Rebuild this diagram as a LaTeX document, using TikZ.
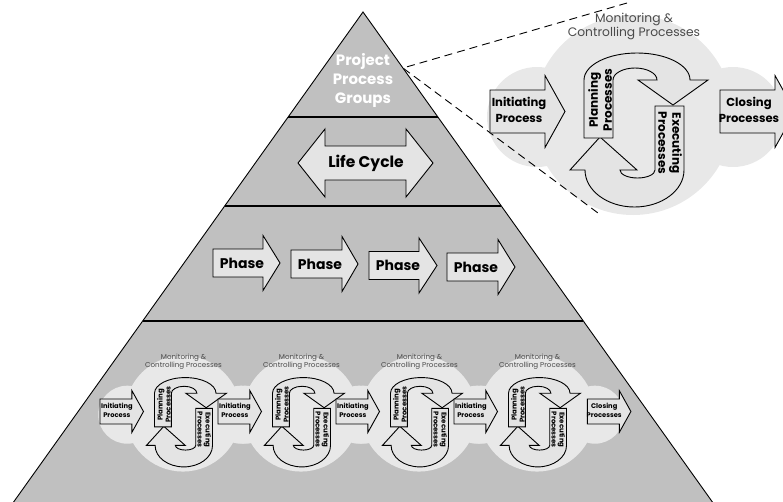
\documentclass[tikz,border=0pt]{standalone}
\usepackage{fontspec}
\setmainfont{Poppins}
\usetikzlibrary{calc}

\definecolor{pyrgray}{HTML}{C0C0C0}
\definecolor{cloudgray}{HTML}{E8E8E8}
\definecolor{boxgray}{HTML}{E4E4E4}
\definecolor{labelgray}{HTML}{4A4A4A}

\tikzset{
  arrowbox/.style={draw=black, line width=0.9pt, fill=boxgray, line join=miter},
  cloudfill/.style={fill=cloudgray},
  tierline/.style={draw=black, line width=1.8pt},
  zoomline/.style={draw=black, line width=0.9pt, dash pattern=on 8pt off 5pt},
  boldlabel/.style={font=\bfseries\fontsize{11.6}{16}\selectfont, align=center, inner sep=0pt},
  cyclelabel/.style={font=\bfseries\fontsize{12}{14}\selectfont, align=center, inner sep=0pt},
  monlabel/.style={font=\fontsize{12.3}{14}\selectfont, text=labelgray, align=center, inner sep=0pt},
  phaselabel/.style={font=\bfseries\fontsize{14}{17}\selectfont, inner sep=0pt},
  cyclename/.style={font=\bfseries\fontsize{15.5}{18}\selectfont, inner sep=0pt},
  toplabel/.style={font=\bfseries\fontsize{15}{19}\selectfont, text=white, align=center, inner sep=0pt},
}

% right-pointing block arrow: left x, head base x, tip x, centre y, body half height, head half height
\newcommand\RightBlock[6]{%
  \draw[arrowbox] (#1,{#4-#5}) -- (#2,{#4-#5}) -- (#2,{#4-#6}) -- (#3,#4)
    -- (#2,{#4+#6}) -- (#2,{#4+#5}) -- (#1,{#4+#5}) -- cycle;}

% light cloud behind one process-group cycle
\newcommand\CycleCloud{%
  \fill[cloudfill] (633,115) circle (100);
  \fill[cloudfill] (537,117) circle (50);
  \fill[cloudfill] (733,117) circle (50);}

\newcommand\InitBlock[1]{%
  \RightBlock{490}{545}{565}{111.5}{21.5}{36}
  \node[boldlabel] (#1init) at (519,110) {Initiating\\Process};}

\newcommand\CloseBlock[1]{%
  \RightBlock{720}{775}{795}{111.5}{21.5}{36}
  \node[boldlabel] (#1close) at (749,110) {Closing\\Processes};}

% planning / executing loop with the monitoring caption
\newcommand\CycleCore[1]{%
  \draw[arrowbox] (655,106) -- (684,106) -- (684,170)
    arc[start angle=0, end angle=180, x radius=49.5, y radius=37]
    -- (570,170) -- (600,137) -- (637,170) -- (620,170)
    arc[start angle=180, end angle=0, x radius=17.5, y radius=8] -- cycle;
  \draw[arrowbox] (584,138) -- (584,80)
    arc[start angle=180, end angle=360, x radius=53, y radius=27]
    -- (708,80) -- (673,105) -- (638,80) -- (657,80)
    arc[start angle=0, end angle=-180, x radius=22, y radius=12]
    -- (613,138) -- cycle;
  \node[cyclelabel, rotate=90] (#1plan) at (600,100) {Planning\\Processes};
  \node[cyclelabel, rotate=-90] (#1exec) at (670,143) {Executing\\Processes};
  \node[monlabel] (#1mon) at (634,26) {Monitoring \&\\Controlling Processes};}

\begin{document}
\begin{tikzpicture}[x=1pt, y=-1pt]
  \useasboundingbox (0,0) rectangle (783,501);

  % pyramid and its tiers
  \coordinate (apex) at (363,12);
  \coordinate (bl) at (13.6,502);
  \coordinate (br) at (712.4,502);
  \fill[pyrgray] (apex) -- (bl) -- (br) -- cycle;
  \draw[line width=0.9pt] (bl) -- (apex) -- (br);
  \draw[tierline] ($(apex)!0.21429!(bl)$) -- ($(apex)!0.21429!(br)$);
  \draw[tierline] ($(apex)!0.39592!(bl)$) -- ($(apex)!0.39592!(br)$);
  \draw[tierline] ($(apex)!0.63061!(bl)$) -- ($(apex)!0.63061!(br)$);

  % top tier
  \node[toplabel] (groups) at (363,80) {Project\\Process\\Groups};

  % life cycle tier
  \draw[arrowbox] (298,163) -- (325,129) -- (325,146) -- (406,146) -- (406,129)
    -- (433,163) -- (406,197) -- (406,180) -- (325,180) -- (325,197) -- cycle;
  \node[cyclename] (lifecycle) at (366,163) {Life Cycle};

  % phase tier
  \RightBlock{213}{263}{280}{263}{14}{27.5}
  \node[phaselabel] (phase1) at (242,263) {Phase};
  \RightBlock{291}{342}{358}{264}{14}{27.5}
  \node[phaselabel] (phase2) at (320,264) {Phase};
  \RightBlock{369}{419}{437}{265.5}{14}{27.5}
  \node[phaselabel] (phase3) at (398,265.5) {Phase};
  \RightBlock{447}{498}{515}{267}{14}{27.5}
  \node[phaselabel] (phase4) at (476,267) {Phase};

  % process-group tier: four small cycles
  \foreach \k in {0,1,2,3} {
    \begin{scope}[shift={({-184.2+118*\k},346.83)}, scale=0.58, transform shape]
      \CycleCloud
    \end{scope}
  }
  \foreach \k in {0,1,2,3} {
    \begin{scope}[shift={({-184.2+118*\k},346.83)}, scale=0.58, transform shape]
      \InitBlock{m\k}
      \CycleCore{m\k}
    \end{scope}
  }
  \begin{scope}[shift={({-184.2+118*3},346.83)}, scale=0.58, transform shape]
    \CloseBlock{m3}
  \end{scope}

  % enlarged cycle beside the apex
  \CycleCloud
  \coordinate (zp) at ($(apex)!0.11429!(br)$);
  \coordinate (zt) at (627,3);
  \coordinate (zb) at (598,213);
  \draw[zoomline] (zt) -- (zp) -- (zb);
  \InitBlock{big}
  \CycleCore{big}
  \CloseBlock{big}
\end{tikzpicture}
\end{document}
